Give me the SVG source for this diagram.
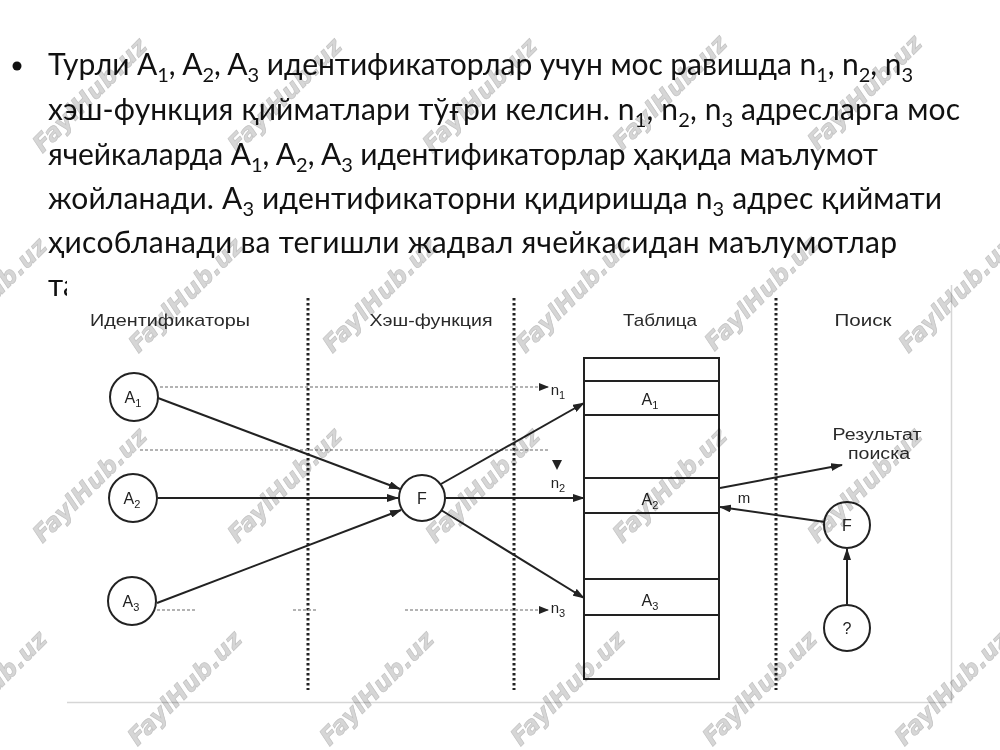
<svg xmlns="http://www.w3.org/2000/svg" width="1000" height="750" viewBox="0 0 1000 750">
<style>
.body{font-family:Lato,'Open Sans','Noto Sans',sans-serif;font-size:30px;fill:#111}
.sb{font-size:20px}
.hd{font-family:'Liberation Sans',Arial,sans-serif;font-size:17px;fill:#2a2a2a;text-anchor:middle}
.lb{font-family:'Liberation Sans',Arial,sans-serif;font-size:16px;fill:#222;text-anchor:middle}
.ls{font-size:11px}
.nd{fill:#fff;stroke:#222;stroke-width:2}
.cell{fill:#fff;stroke:#222;stroke-width:2}
.row{stroke:#222;stroke-width:2}
.sep{stroke:#222;stroke-width:3;stroke-dasharray:2.5 2.5}
.dot{stroke:#9a9a9a;stroke-width:1.5;stroke-dasharray:3 2;fill:none}
.ar{stroke:#222;stroke-width:2;fill:none;marker-end:url(#ah)}
.ars{marker-end:url(#ahs)}
.wm{font-family:'DejaVu Sans',sans-serif;font-weight:bold;font-style:italic;font-size:24px;fill:#d6d6d6;stroke:#c2c2c2;stroke-width:.7;mix-blend-mode:multiply;text-anchor:middle}
</style>
<defs>
<marker id="ah" markerWidth="12" markerHeight="8" refX="11" refY="4" orient="auto" markerUnits="userSpaceOnUse"><path d="M0,0L12,4L0,8z" fill="#222"/></marker>
<marker id="ahs" markerWidth="10" markerHeight="8" refX="9" refY="4" orient="auto" markerUnits="userSpaceOnUse"><path d="M0,0L10,4L0,8z" fill="#222"/></marker>
</defs>
<rect width="1000" height="750" fill="#fff"/>

<g id="slide-text" class="body">
<circle cx="17" cy="66" r="4.5" fill="#111"/>
<text x="48" y="75" textLength="865">Турли A<tspan class="sb" dy="7">1</tspan><tspan dy="-7">, A</tspan><tspan class="sb" dy="7">2</tspan><tspan dy="-7">, A</tspan><tspan class="sb" dy="7">3</tspan><tspan dy="-7"> идентификаторлар учун мос равишда n</tspan><tspan class="sb" dy="7">1</tspan><tspan dy="-7">, n</tspan><tspan class="sb" dy="7">2</tspan><tspan dy="-7">, n</tspan><tspan class="sb" dy="7">3</tspan></text>
<text x="48" y="120" textLength="912">хэш-функция қийматлари тўғри келсин. n<tspan class="sb" dy="7">1</tspan><tspan dy="-7">, n</tspan><tspan class="sb" dy="7">2</tspan><tspan dy="-7">, n</tspan><tspan class="sb" dy="7">3</tspan><tspan dy="-7"> адресларга мос</tspan></text>
<text x="48" y="165" textLength="830">ячейкаларда A<tspan class="sb" dy="7">1</tspan><tspan dy="-7">, A</tspan><tspan class="sb" dy="7">2</tspan><tspan dy="-7">, A</tspan><tspan class="sb" dy="7">3</tspan><tspan dy="-7"> идентификаторлар ҳақида маълумот</tspan></text>
<text x="48" y="209" textLength="894">жойланади. A<tspan class="sb" dy="7">3</tspan><tspan dy="-7"> идентификаторни қидиришда n</tspan><tspan class="sb" dy="7">3</tspan><tspan dy="-7"> адрес қиймати</tspan></text>
<text x="48" y="253" textLength="849">ҳисобланади ва тегишли жадвал ячейкасидан маълумотлар</text>
<text x="48" y="296">та</text>
</g>

<g id="picture">
<rect x="67" y="270" width="884" height="433" fill="#fff"/>
<path d="M951.5,285V702.5H67" fill="none" stroke="#d6d6d6" stroke-width="1.5"/>
</g>

<g id="separators">
<line class="sep" x1="308" y1="298" x2="308" y2="690"/>
<line class="sep" x1="514" y1="298" x2="514" y2="690"/>
<line class="sep" x1="776" y1="298" x2="776" y2="690"/>
</g>

<g id="headers">
<text class="hd" x="170" y="326" textLength="160" lengthAdjust="spacingAndGlyphs">Идентификаторы</text>
<text class="hd" x="431" y="326" textLength="123" lengthAdjust="spacingAndGlyphs">Хэш-функция</text>
<text class="hd" x="660" y="326" textLength="74" lengthAdjust="spacingAndGlyphs">Таблица</text>
<text class="hd" x="863" y="326" textLength="57" lengthAdjust="spacingAndGlyphs">Поиск</text>
</g>

<g id="table">
<rect class="cell" x="584" y="358" width="135" height="321"/>
<line class="row" x1="584" y1="381" x2="719" y2="381"/>
<line class="row" x1="584" y1="415" x2="719" y2="415"/>
<line class="row" x1="584" y1="478" x2="719" y2="478"/>
<line class="row" x1="584" y1="513" x2="719" y2="513"/>
<line class="row" x1="584" y1="579" x2="719" y2="579"/>
<line class="row" x1="584" y1="615" x2="719" y2="615"/>
<text class="lb" x="650" y="405">A<tspan class="ls" dy="4">1</tspan></text>
<text class="lb" x="650" y="505">A<tspan class="ls" dy="4">2</tspan></text>
<text class="lb" x="650" y="606">A<tspan class="ls" dy="4">3</tspan></text>
</g>

<g id="connectors">
<path class="dot ars" d="M160,387H548"/>
<path class="dot" d="M140,450H550"/>
<path d="M552,460H562L557,470z" fill="#222"/>
<path class="dot" d="M157,610H195M293,610H318"/>
<path class="dot ars" d="M405,610H548"/>
<path class="ar" d="M158,398L400,489"/>
<path class="ar" d="M158,498L398,498"/>
<path class="ar" d="M157,603L401,510"/>
<path class="ar" d="M441,484L584,403"/>
<path class="ar" d="M446,498L584,498"/>
<path class="ar" d="M441,510L584,598"/>
<path class="ar" d="M720,488L842,465"/>
<path class="ar" d="M825,522L720,507"/>
<path class="ar" d="M847,604L847,549"/>
<text class="lb" x="558" y="395" style="font-size:15px">n<tspan class="ls" dy="4">1</tspan></text>
<text class="lb" x="558" y="488" style="font-size:15px">n<tspan class="ls" dy="4">2</tspan></text>
<text class="lb" x="558" y="613" style="font-size:15px">n<tspan class="ls" dy="4">3</tspan></text>
<text class="lb" x="744" y="503" style="font-size:15px">m</text>
</g>

<g id="node-A1"><circle class="nd" cx="134" cy="397" r="24"/><text class="lb" x="133" y="403">A<tspan class="ls" dy="4">1</tspan></text></g>
<g id="node-A2"><circle class="nd" cx="133" cy="498" r="24"/><text class="lb" x="132" y="504">A<tspan class="ls" dy="4">2</tspan></text></g>
<g id="node-A3"><circle class="nd" cx="132" cy="601" r="24"/><text class="lb" x="131" y="607">A<tspan class="ls" dy="4">3</tspan></text></g>
<g id="node-F"><circle class="nd" cx="422" cy="498" r="23"/><text class="lb" x="422" y="504">F</text></g>
<g id="node-F2"><circle class="nd" cx="847" cy="525" r="23"/><text class="lb" x="847" y="531">F</text></g>
<g id="node-Q"><circle class="nd" cx="847" cy="628" r="23"/><text class="lb" x="847" y="634">?</text></g>
<g id="result-label">
<text class="hd" x="877" y="440" style="font-size:16px" textLength="89" lengthAdjust="spacingAndGlyphs">Результат</text>
<text class="hd" x="879" y="459" style="font-size:16px" textLength="62" lengthAdjust="spacingAndGlyphs">поиска</text>
</g>

<g id="watermarks">
<text class="wm" transform="translate(90,95) rotate(-45)" dy="8" textLength="150">FaylHub.uz</text>
<text class="wm" transform="translate(285,95) rotate(-45)" dy="8" textLength="150">FaylHub.uz</text>
<text class="wm" transform="translate(480,95) rotate(-45)" dy="8" textLength="150">FaylHub.uz</text>
<text class="wm" transform="translate(670,92) rotate(-45)" dy="8" textLength="150">FaylHub.uz</text>
<text class="wm" transform="translate(865,92) rotate(-45)" dy="8" textLength="150">FaylHub.uz</text>
<text class="wm" transform="translate(-10,295) rotate(-45)" dy="8" textLength="150">FaylHub.uz</text>
<text class="wm" transform="translate(186,295) rotate(-45)" dy="8" textLength="150">FaylHub.uz</text>
<text class="wm" transform="translate(380,295) rotate(-45)" dy="8" textLength="150">FaylHub.uz</text>
<text class="wm" transform="translate(573,295) rotate(-45)" dy="8" textLength="150">FaylHub.uz</text>
<text class="wm" transform="translate(762,293) rotate(-45)" dy="8" textLength="150">FaylHub.uz</text>
<text class="wm" transform="translate(956,295) rotate(-45)" dy="8" textLength="150">FaylHub.uz</text>
<text class="wm" transform="translate(90,485) rotate(-45)" dy="8" textLength="150">FaylHub.uz</text>
<text class="wm" transform="translate(285,485) rotate(-45)" dy="8" textLength="150">FaylHub.uz</text>
<text class="wm" transform="translate(483,485) rotate(-45)" dy="8" textLength="150">FaylHub.uz</text>
<text class="wm" transform="translate(670,485) rotate(-45)" dy="8" textLength="150">FaylHub.uz</text>
<text class="wm" transform="translate(865,485) rotate(-45)" dy="8" textLength="150">FaylHub.uz</text>
<text class="wm" transform="translate(-10,688) rotate(-45)" dy="8" textLength="150">FaylHub.uz</text>
<text class="wm" transform="translate(185,688) rotate(-45)" dy="8" textLength="150">FaylHub.uz</text>
<text class="wm" transform="translate(377,688) rotate(-45)" dy="8" textLength="150">FaylHub.uz</text>
<text class="wm" transform="translate(568,688) rotate(-45)" dy="8" textLength="150">FaylHub.uz</text>
<text class="wm" transform="translate(760,688) rotate(-45)" dy="8" textLength="150">FaylHub.uz</text>
<text class="wm" transform="translate(952,688) rotate(-45)" dy="8" textLength="150">FaylHub.uz</text>
</g>
</svg>
